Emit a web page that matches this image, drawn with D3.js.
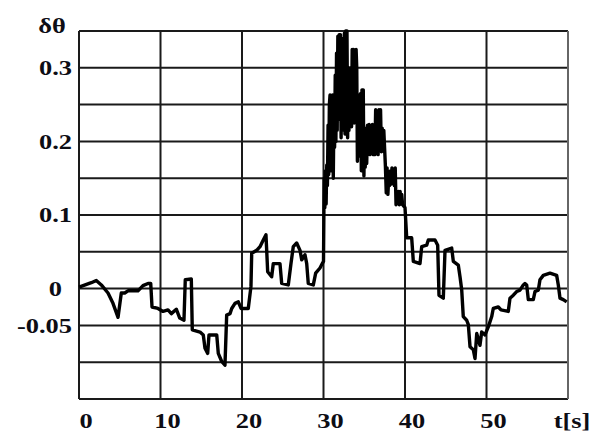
<!DOCTYPE html>
<html><head><meta charset="utf-8">
<script src="https://cdn.jsdelivr.net/npm/d3@7"></script>
<style>
html,body{margin:0;padding:0;background:#fff;}
svg{display:block;}
text{font-family:"Liberation Serif","Times New Roman",serif;font-weight:bold;fill:#0d0d14;}
</style></head>
<body>
<svg id="chart" width="594" height="435"></svg>
<script>
// ---- data ----
const xTicks = [0, 10, 20, 30, 40, 50];
const xTickLabels = ["0", "10", "20", "30", "40", "50"];
const yGrid = [-0.15, -0.1, -0.05, 0, 0.05, 0.1, 0.15, 0.2, 0.25, 0.3, 0.35];
const yTicks = [0.3, 0.2, 0.1, 0, -0.05];
const yTickLabels = ["0.3", "0.2", "0.1", "0", "-0.05"];
const xAxisTitle = "t[s]";
const yAxisTitle = "δθ";

const time = [
 0.00, 1.51, 2.12, 2.74, 3.56, 4.17, 4.79, 5.19, 5.61, 6.01, 7.24, 7.85, 8.47, 8.80,
 8.96, 9.69, 10.31, 10.92, 11.33, 11.94, 12.36, 12.88, 13.04, 13.78, 13.90, 14.85,
 15.25, 15.46, 15.79, 15.95, 16.90, 17.09, 17.51, 17.91, 18.12, 18.53, 18.74, 19.14,
 19.55, 19.88, 20.77, 21.10, 21.19, 21.80, 22.21, 22.61, 22.94, 23.03, 23.15, 23.64,
 23.84, 24.66, 24.87, 25.68, 26.01, 26.29, 26.71, 27.12, 27.33, 27.73, 27.94, 28.13,
 28.75, 29.04, 29.57, 29.85,
 30.00, 30.08, 30.16, 30.24, 30.32, 30.40, 30.48, 30.56, 30.64, 30.72, 30.80, 30.88,
 30.96, 31.04, 31.12, 31.20, 31.28, 31.36, 31.44, 31.52, 31.60, 31.68, 31.76, 31.84,
 31.92, 32.00, 32.08, 32.16, 32.24, 32.32, 32.40, 32.48, 32.56, 32.64, 32.72, 32.80,
 32.88, 32.96, 33.04, 33.12, 33.20, 33.28, 33.36, 33.44, 33.52, 33.60, 33.68, 33.76,
 33.84, 33.92, 34.00, 34.08, 34.16, 34.24, 34.32, 34.40, 34.48, 34.56, 34.64, 34.72,
 34.80, 34.88, 34.96, 35.04, 35.12, 35.20, 35.30, 35.40, 35.50, 35.60, 35.70, 35.80,
 35.90, 36.00, 36.10, 36.20, 36.30, 36.40, 36.50, 36.60, 36.70, 36.80, 36.90, 37.00,
 37.10, 37.20, 37.30, 37.40, 37.50, 37.60, 37.70, 37.80, 37.90, 38.00, 38.10, 38.20,
 38.30, 38.40, 38.50, 38.60, 38.70, 38.80, 38.90, 39.00, 39.10, 39.20, 39.30, 39.40,
 39.50, 39.60, 39.70,
 40.00, 40.21, 40.82, 41.02, 41.84, 42.05, 42.66, 42.86, 43.68, 44.01, 44.17, 44.70,
 44.91, 45.73, 45.93, 46.54, 46.75, 46.96, 47.15, 47.57, 47.77, 47.98, 48.38, 48.59,
 48.80, 49.20, 49.41, 49.82, 50.22, 50.64, 50.83, 51.45, 51.78, 52.67, 52.88, 53.29,
 53.70, 54.11, 54.52, 54.72, 54.93, 55.13, 55.74, 55.95, 56.36, 56.56, 56.97, 57.79,
 58.61, 58.81, 59.02, 59.42, 59.84
];
const dtheta = [
 0.002, 0.008, 0.011, 0.005, -0.006, -0.020, -0.039, -0.006, -0.006, -0.003, -0.003, 0.004, 0.007, 0.007,
 -0.025, -0.027, -0.031, -0.029, -0.034, -0.028, -0.040, -0.043, 0.012, 0.013, -0.056, -0.059,
 -0.063, -0.081, -0.088, -0.063, -0.063, -0.088, -0.099, -0.104, -0.036, -0.034, -0.027, -0.020,
 -0.018, -0.027, -0.027, 0.003, 0.048, 0.052, 0.057, 0.066, 0.073, 0.052, 0.023, 0.016,
 0.034, 0.034, 0.007, 0.005, 0.034, 0.057, 0.062, 0.052, 0.039, 0.046, 0.034, 0.007,
 0.005, 0.021, 0.028, 0.034,
 0.037, 0.150, 0.110, 0.160, 0.115, 0.168, 0.140, 0.222, 0.155, 0.250, 0.263, 0.160,
 0.262, 0.170, 0.263, 0.150, 0.240, 0.192, 0.290, 0.200, 0.320, 0.215, 0.343, 0.230,
 0.345, 0.260, 0.345, 0.205, 0.300, 0.215, 0.340, 0.240, 0.347, 0.210, 0.350, 0.250,
 0.350, 0.205, 0.300, 0.215, 0.263, 0.225, 0.300, 0.220, 0.325, 0.240, 0.325, 0.225,
 0.320, 0.250, 0.325, 0.300, 0.173, 0.250, 0.190, 0.263, 0.180, 0.265, 0.160, 0.270,
 0.175, 0.270, 0.153, 0.215, 0.165, 0.218, 0.170, 0.222, 0.185, 0.223, 0.182, 0.220,
 0.190, 0.223, 0.182, 0.215, 0.182, 0.243, 0.185, 0.240, 0.182, 0.243, 0.190, 0.243,
 0.186, 0.218, 0.187, 0.215, 0.190, 0.165, 0.130, 0.164, 0.128, 0.150, 0.140, 0.160,
 0.142, 0.164, 0.145, 0.160, 0.140, 0.164, 0.114, 0.130, 0.116, 0.132, 0.114, 0.132,
 0.115, 0.128, 0.114,
 0.110, 0.069, 0.069, 0.037, 0.034, 0.057, 0.059, 0.066, 0.066, 0.059, -0.009, -0.013,
 0.052, 0.055, 0.037, 0.032, 0.016, -0.002, -0.038, -0.043, -0.049, -0.079, -0.083, -0.095,
 -0.061, -0.077, -0.059, -0.063, -0.052, -0.038, -0.027, -0.025, -0.029, -0.031, -0.013, -0.009,
 -0.004, -0.002, 0.005, 0.007, 0.005, -0.015, -0.015, -0.004, -0.002, 0.012, 0.018, 0.021,
 0.018, 0.005, -0.013, -0.015, -0.018
];

// ---- drawing ----
const svg = d3.select("#chart");
const plotL = 79, plotR = 568, plotT = 31, plotB = 399;
const x = d3.scaleLinear().domain([0, 60]).range([plotL, plotR]);
const y = d3.scaleLinear().domain([-0.15, 0.35]).range([plotB, plotT]);

const grid = svg.append("g");
grid.selectAll("line.h").data(yGrid).join("line")
  .attr("class", "h")
  .attr("x1", plotL).attr("x2", plotR)
  .attr("y1", d => y(d)).attr("y2", d => y(d))
  .attr("stroke", "#1a1a1a").attr("stroke-width", 2);
grid.selectAll("line.v").data(xTicks.concat([60])).join("line")
  .attr("class", "v")
  .attr("x1", d => x(d)).attr("x2", d => x(d))
  .attr("y1", plotT).attr("y2", plotB)
  .attr("stroke", d => d === 60 ? "#666" : "#1a1a1a").attr("stroke-width", 2);

const pts = time.map((t, i) => [t, dtheta[i]]);
svg.append("path")
  .datum(pts)
  .attr("fill", "none")
  .attr("stroke", "#000")
  .attr("stroke-width", 3.4)
  .attr("stroke-linejoin", "round")
  .attr("d", d3.line().x(d => x(d[0])).y(d => y(d[1])));

const STRETCH = 1.2;
function stretch(sel) {
  sel.each(function () {
    const len = this.getComputedTextLength();
    d3.select(this).attr("textLength", len * STRETCH).attr("lengthAdjust", "spacingAndGlyphs");
  });
}

const xl = svg.append("g").selectAll("text").data(xTicks).join("text")
  .attr("x", d => x(d) + 7)
  .attr("y", 428)
  .attr("text-anchor", "middle")
  .attr("font-size", 22)
  .text((d, i) => xTickLabels[i]);
stretch(xl);

const yl = svg.append("g").selectAll("text").data(yTicks).join("text")
  .attr("y", d => y(d))
  .attr("dy", "0.34em")
  .attr("text-anchor", "end")
  .attr("font-size", 22)
  .text((d, i) => yTickLabels[i]);
stretch(yl);
yl.each(function () {
  const w = this.getComputedTextLength() * STRETCH;
  d3.select(this).attr("x", Math.min(54 + w / 2, 72));
});

const xt = svg.append("text")
  .attr("x", 572).attr("y", 428)
  .attr("text-anchor", "middle")
  .attr("font-size", 22)
  .text(xAxisTitle);
stretch(xt);
const yt = svg.append("text")
  .attr("x", 52).attr("y", 33)
  .attr("text-anchor", "middle")
  .attr("font-size", 22)
  .text(yAxisTitle);
stretch(yt);
</script>
</body></html>
